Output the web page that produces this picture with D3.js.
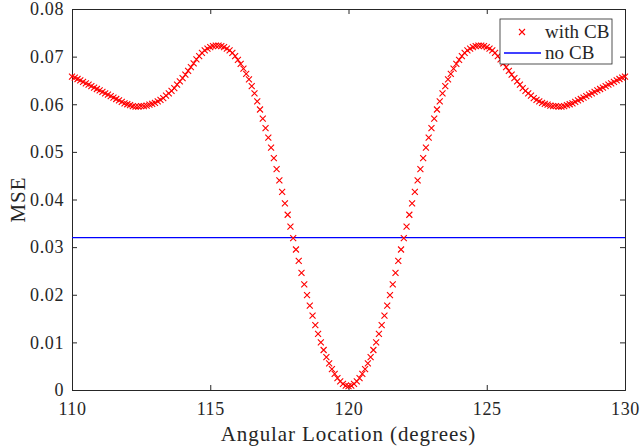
<!DOCTYPE html>
<html>
<head>
<meta charset="utf-8">
<script src="https://cdn.jsdelivr.net/npm/d3@7"></script>
<style>
  body { margin: 0; background: #fff; }
  text { font-family: "Liberation Serif", "DejaVu Serif", serif; fill: #262626; }
</style>
</head>
<body>
<script>
// data
const angles = [
  110.0,110.1,110.2,110.3,110.4,110.5,110.6,110.7,110.8,110.9,
  111.0,111.1,111.2,111.3,111.4,111.5,111.6,111.7,111.8,111.9,
  112.0,112.1,112.2,112.3,112.4,112.5,112.6,112.7,112.8,112.9,
  113.0,113.1,113.2,113.3,113.4,113.5,113.6,113.7,113.8,113.9,
  114.0,114.1,114.2,114.3,114.4,114.5,114.6,114.7,114.8,114.9,
  115.0,115.1,115.2,115.3,115.4,115.5,115.6,115.7,115.8,115.9,
  116.0,116.1,116.2,116.3,116.4,116.5,116.6,116.7,116.8,116.9,
  117.0,117.1,117.2,117.3,117.4,117.5,117.6,117.7,117.8,117.9,
  118.0,118.1,118.2,118.3,118.4,118.5,118.6,118.7,118.8,118.9,
  119.0,119.1,119.2,119.3,119.4,119.5,119.6,119.7,119.8,119.9,
  120.0,120.1,120.2,120.3,120.4,120.5,120.6,120.7,120.8,120.9,
  121.0,121.1,121.2,121.3,121.4,121.5,121.6,121.7,121.8,121.9,
  122.0,122.1,122.2,122.3,122.4,122.5,122.6,122.7,122.8,122.9,
  123.0,123.1,123.2,123.3,123.4,123.5,123.6,123.7,123.8,123.9,
  124.0,124.1,124.2,124.3,124.4,124.5,124.6,124.7,124.8,124.9,
  125.0,125.1,125.2,125.3,125.4,125.5,125.6,125.7,125.8,125.9,
  126.0,126.1,126.2,126.3,126.4,126.5,126.6,126.7,126.8,126.9,
  127.0,127.1,127.2,127.3,127.4,127.5,127.6,127.7,127.8,127.9,
  128.0,128.1,128.2,128.3,128.4,128.5,128.6,128.7,128.8,128.9,
  129.0,129.1,129.2,129.3,129.4,129.5,129.6,129.7,129.8,129.9,
  130.0
]

const mseWithCB = [
  0.0658,0.0656,0.0653,0.0650,0.0647,0.0644,0.0641,0.0638,0.0635,0.0632,
  0.0629,0.0626,0.0623,0.0620,0.0617,0.0614,0.0611,0.0608,0.0605,0.0602,
  0.0600,0.0598,0.0596,0.0595,0.0595,0.0596,0.0596,0.0597,0.0599,0.0601,
  0.0603,0.0606,0.0609,0.0613,0.0618,0.0623,0.0628,0.0634,0.0641,0.0648,
  0.0655,0.0662,0.0670,0.0678,0.0686,0.0694,0.0701,0.0708,0.0713,0.0717,
  0.0720,0.0722,0.0723,0.0723,0.0722,0.0720,0.0717,0.0713,0.0708,0.0701,
  0.0693,0.0685,0.0675,0.0664,0.0652,0.0638,0.0623,0.0606,0.0589,0.0570,
  0.0550,0.0530,0.0509,0.0487,0.0464,0.0440,0.0416,0.0392,0.0368,0.0343,
  0.0319,0.0295,0.0271,0.0246,0.0222,0.0199,0.0177,0.0156,0.0136,0.0118,
  0.0100,0.0084,0.0069,0.0056,0.0044,0.0034,0.0025,0.0018,0.0013,0.0009,
  0.0008,
  0.0009,0.0013,0.0018,0.0025,0.0034,0.0044,0.0056,0.0069,0.0084,0.0100,
  0.0118,0.0136,0.0156,0.0177,0.0199,0.0222,0.0246,0.0271,0.0295,0.0319,
  0.0343,0.0368,0.0392,0.0416,0.0440,0.0464,0.0487,0.0509,0.0530,0.0550,
  0.0570,0.0589,0.0606,0.0623,0.0638,0.0652,0.0664,0.0675,0.0685,0.0693,
  0.0701,0.0708,0.0713,0.0717,0.0720,0.0722,0.0723,0.0723,0.0722,0.0720,
  0.0717,0.0713,0.0708,0.0701,0.0694,0.0686,0.0678,0.0670,0.0662,0.0655,
  0.0648,0.0641,0.0634,0.0628,0.0623,0.0618,0.0613,0.0609,0.0606,0.0603,
  0.0601,0.0599,0.0597,0.0596,0.0596,0.0595,0.0595,0.0596,0.0598,0.0600,
  0.0602,0.0605,0.0608,0.0611,0.0614,0.0617,0.0620,0.0623,0.0626,0.0629,
  0.0632,0.0635,0.0638,0.0641,0.0644,0.0647,0.0650,0.0653,0.0656,0.0658
]

const mseNoCB = 0.032

const xTicks = [110, 115, 120, 125, 130]
const yTicks = [0, 0.01, 0.02, 0.03, 0.04, 0.05, 0.06, 0.07, 0.08]
const legendLabels = ['with CB', 'no CB']

const W = 640, H = 448
const m = {left: 72, right: 15, top: 9, bottom: 58}

let svg = d3.select('body')
    .append('svg')
    .attr('width', W)
    .attr('height', H)

let x = d3.scaleLinear().domain([110, 130]).range([m.left, W - m.right])
let y = d3.scaleLinear().domain([0, 0.08]).range([H - m.bottom, m.top])

let axisColor = '#262626'

// axes (ticks point inward)
let gx = svg.append('g')
    .attr('transform', `translate(0,${H - m.bottom})`)
    .call(d3.axisBottom(x).tickValues(xTicks).tickSize(-5).tickPadding(12).tickFormat(d3.format('d')))
let gy = svg.append('g')
    .attr('transform', `translate(${m.left},0)`)
    .call(d3.axisLeft(y).tickValues(yTicks).tickSize(-5).tickPadding(8).tickFormat(d => d === 0 ? '0' : d3.format('.2f')(d)))
let gxTop = svg.append('g')
    .attr('transform', `translate(0,${m.top})`)
    .call(d3.axisTop(x).tickValues(xTicks).tickSize(-5).tickFormat(''))
let gyRight = svg.append('g')
    .attr('transform', `translate(${W - m.right},0)`)
    .call(d3.axisRight(y).tickValues(yTicks).tickSize(-5).tickFormat(''))

svg.selectAll('.domain').attr('stroke', axisColor)
svg.selectAll('.tick line').attr('stroke', axisColor)
svg.selectAll('.tick text')
    .attr('font-size', 18)
    .attr('letter-spacing', 0.6)
    .attr('font-family', '"Liberation Serif", serif')
    .attr('fill', axisColor)

// no CB line
svg.append('line')
    .attr('x1', x(110))
    .attr('x2', x(130))
    .attr('y1', y(mseNoCB))
    .attr('y2', y(mseNoCB))
    .attr('stroke', '#0000ff')
    .attr('stroke-width', 1.4)

// with CB markers
const r = 3
let pts = svg.append('g')
    .attr('stroke', '#ff0000')
    .attr('stroke-width', 1.1)
    .attr('fill', 'none')
pts.selectAll('path')
    .data(angles.map((a, i) => [a, mseWithCB[i]]))
    .enter()
    .append('path')
    .attr('d', d => {
        let cx = x(d[0]), cy = y(d[1])
        return `M${cx - r},${cy - r}L${cx + r},${cy + r}M${cx - r},${cy + r}L${cx + r},${cy - r}`
    })

// axis labels
svg.append('text')
    .text('Angular Location (degrees)')
    .attr('x', (m.left + W - m.right) / 2)
    .attr('y', H - 7)
    .attr('text-anchor', 'middle')
    .attr('font-size', 21)
    .attr('letter-spacing', 0.9)

svg.append('text')
    .text('MSE')
    .attr('transform', `translate(25,${(m.top + H - m.bottom) / 2}) rotate(-90)`)
    .attr('text-anchor', 'middle')
    .attr('font-size', 21)
    .attr('letter-spacing', 1)

// legend
let lg = svg.append('g').attr('transform', 'translate(500,19)')
lg.append('rect')
    .attr('width', 112)
    .attr('height', 45)
    .attr('fill', '#fff')
    .attr('stroke', axisColor)
    .attr('stroke-width', 0.8)
lg.append('path')
    .attr('d', `M${22 - r},${13 - r}L${22 + r},${13 + r}M${22 - r},${13 + r}L${22 + r},${13 - r}`)
    .attr('stroke', '#ff0000')
    .attr('stroke-width', 1.1)
    .attr('fill', 'none')
lg.append('line')
    .attr('x1', 4).attr('x2', 41)
    .attr('y1', 34).attr('y2', 34)
    .attr('stroke', '#0000ff')
    .attr('stroke-width', 1.4)
lg.selectAll('text.lbl')
    .data(legendLabels)
    .enter()
    .append('text')
    .attr('class', 'lbl')
    .text(d => d)
    .attr('x', 45)
    .attr('y', (d, i) => 19 + i * 21)
    .attr('font-size', 19)
    .attr('letter-spacing', 0.1)
</script>
</body>
</html>
